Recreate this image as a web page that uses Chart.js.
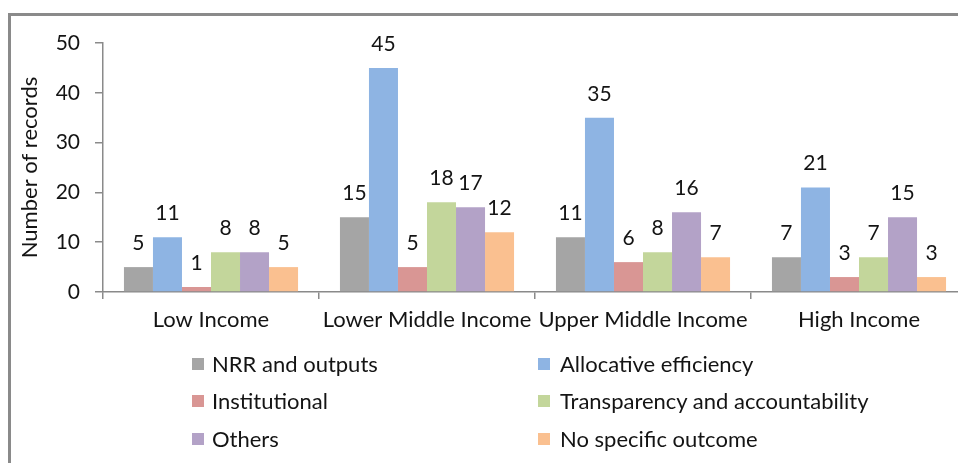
<!DOCTYPE html>
<html>
<head>
<meta charset="utf-8">
<script src="https://cdn.jsdelivr.net/npm/chart.js@4/dist/chart.umd.min.js"></script>
<style>
  html, body { margin: 0; padding: 0; background: #fff; overflow: hidden; width: 958px; height: 463px; }
  #frame { position: absolute; left: 8px; top: 13px; width: 2000px; height: 2000px;
           border-left: 3px solid #8a8a8a; border-top: 3px solid #8a8a8a; }
  #wrap { position: absolute; left: 0; top: 0; width: 980px; height: 463px; }
  #legend { position: absolute; left: 0; top: 0; font-family: Lato, "Open Sans", sans-serif; font-size: 22px; color: #141414; }
  .li { position: absolute; height: 26px; line-height: 26px; white-space: nowrap; }
  .sw { position: absolute; width: 12px; height: 12px; top: 7px; left: 0; }
  .tx { position: absolute; top: 0; }
</style>
</head>
<body>
<div id="frame"></div>
<div id="wrap"><canvas id="c" width="980" height="463"></canvas></div>
<div id="legend"></div>
<script>
const categories = ["Low Income", "Lower Middle Income", "Upper Middle Income", "High Income"];
const seriesNames = ["NRR and outputs", "Allocative efficiency", "Institutional", "Transparency and accountability", "Others", "No specific outcome"];
const nrrOutputs = [5, 15, 11, 7];
const allocativeEfficiency = [11, 45, 35, 21];
const institutional = [1, 5, 6, 3];
const transparencyAccountability = [8, 18, 8, 7];
const others = [8, 17, 16, 15];
const noSpecificOutcome = [5, 12, 7, 3];
const seriesColors = ["#A5A5A5", "#8EB4E3", "#D99694", "#C3D69B", "#B3A2C7", "#FAC090"];
const yTicks = [0, 10, 20, 30, 40, 50];

const seriesValues = [nrrOutputs, allocativeEfficiency, institutional, transparencyAccountability, others, noSpecificOutcome];
const FONT = 'Lato, "Open Sans", sans-serif';
const TXT = '#141414';
const AXIS = '#8a8a8a';

const valueLabels = {
  id: 'valueLabels',
  afterDatasetsDraw(chart) {
    const ctx = chart.ctx;
    ctx.save();
    ctx.font = '21px ' + FONT;
    ctx.fillStyle = TXT;
    ctx.textAlign = 'center';
    ctx.textBaseline = 'alphabetic';
    chart.data.datasets.forEach((ds, i) => {
      chart.getDatasetMeta(i).data.forEach((el, j) => {
        ctx.fillText(String(ds.data[j]), el.x, el.y - 17);
      });
    });
    ctx.restore();
  }
};

const chart = new Chart(document.getElementById('c'), {
  type: 'bar',
  data: {
    labels: categories,
    datasets: seriesNames.map((n, i) => ({
      label: n,
      data: seriesValues[i],
      backgroundColor: seriesColors[i],
      borderWidth: 0,
      categoryPercentage: 0.806,
      barPercentage: 1.0
    }))
  },
  options: {
    responsive: false,
    animation: false,
    layout: { padding: { left: 12, top: 43, right: 13, bottom: 0 } },
    plugins: { legend: { display: false }, tooltip: { enabled: false } },
    scales: {
      x: {
        offset: true,
        grid: { offset: true, drawOnChartArea: false, drawTicks: true, tickLength: 7, color: AXIS, lineWidth: 1.5 },
        border: { color: AXIS, width: 1.5 },
        ticks: { color: TXT, font: { family: FONT, size: 22 }, padding: 8, maxRotation: 0, autoSkip: false },
        afterFit(s) { s.height = 171; }
      },
      y: {
        min: 0, max: 50,
        afterBuildTicks(s) { s.ticks = yTicks.map(v => ({ value: v })); },
        grid: { drawOnChartArea: false, drawTicks: true, tickLength: 8, color: AXIS, lineWidth: 1.5 },
        border: { color: AXIS, width: 1.5 },
        ticks: { color: TXT, font: { family: FONT, size: 21 }, padding: 15 },
        title: { display: true, text: 'Number of records', color: TXT, font: { family: FONT, size: 22 }, padding: { top: 5, bottom: 0 } },
        afterFit(s) { s.width = 91; }
      }
    }
  },
  plugins: [valueLabels]
});

// HTML legend built from the chart's datasets (2 columns x 3 rows)
const legend = document.getElementById('legend');
const colX = [192, 538];
const rowY = [364, 401, 439];
chart.data.datasets.forEach((ds, i) => {
  const col = i % 2, row = Math.floor(i / 2);
  const item = document.createElement('div');
  item.className = 'li';
  item.style.left = colX[col] + 'px';
  item.style.top = (rowY[row] - 13) + 'px';
  const sw = document.createElement('span');
  sw.className = 'sw';
  sw.style.background = ds.backgroundColor;
  const tx = document.createElement('span');
  tx.className = 'tx';
  tx.style.left = (col === 0 ? 20 : 22) + 'px';
  tx.textContent = ds.label;
  item.appendChild(sw);
  item.appendChild(tx);
  legend.appendChild(item);
});
</script>
</body>
</html>
